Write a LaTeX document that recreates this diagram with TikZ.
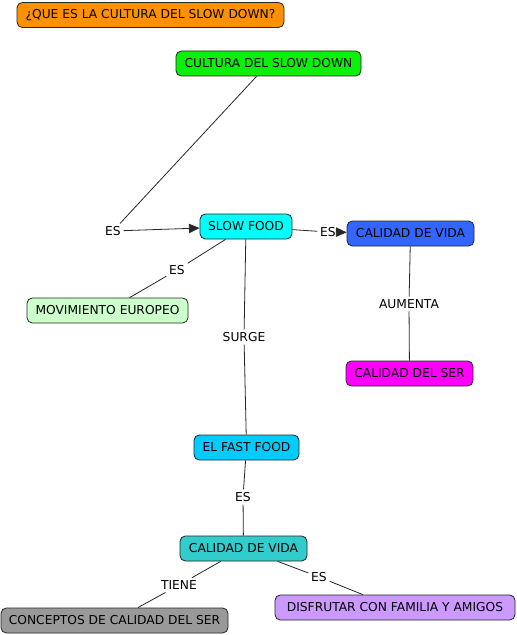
\documentclass[tikz,border=0pt]{standalone}
\usepackage{fontspec}
\setmainfont{DejaVu Sans}
\usetikzlibrary{arrows.meta}
\definecolor{cOrange}{RGB}{255,145,0}
\definecolor{cGreen}{RGB}{10,240,10}
\definecolor{cCyan}{RGB}{0,255,255}
\definecolor{cBlue}{RGB}{51,102,255}
\definecolor{cLight}{RGB}{204,255,204}
\definecolor{cMag}{RGB}{255,0,255}
\definecolor{cSky}{RGB}{0,204,255}
\definecolor{cTeal}{RGB}{51,204,204}
\definecolor{cGrey}{RGB}{153,153,153}
\definecolor{cLav}{RGB}{204,153,255}
\begin{document}
\begin{tikzpicture}[x=0.75pt,y=-0.75pt,
  concept/.style={draw=black!85,line width=0.6pt,rounded corners=4pt,minimum height=18.75pt,inner sep=1pt,font=\fontsize{9.2}{11}\selectfont},
  lbl/.style={inner sep=2pt,font=\fontsize{9.2}{11}\selectfont},
  link/.style={draw=black!85,line width=0.6pt},
  arr/.style={link,-{Triangle[length=8pt,width=7pt]}}]
\useasboundingbox (0,0) rectangle (517,635);
\fill[white] (0,0) rectangle (517,635);
\node[concept,fill=cOrange,minimum width=200.25pt] (title) at (150.5,15) {¿QUE ES LA CULTURA DEL SLOW DOWN?};
\node[concept,fill=cGreen,minimum width=138.75pt] (cult) at (268.5,63.5) {CULTURA DEL SLOW DOWN};
\node[concept,fill=cCyan,minimum width=69pt] (slow) at (246,226.5) {SLOW FOOD};
\node[concept,fill=cBlue,minimum width=95.25pt] (cvida) at (410.5,233.5) {CALIDAD DE VIDA};
\node[concept,fill=cLight,minimum width=120.75pt] (mov) at (107.5,310.5) {MOVIMIENTO EUROPEO};
\node[concept,fill=cMag,minimum width=95.25pt] (cser) at (409.5,373.5) {CALIDAD DEL SER};
\node[concept,fill=cSky,minimum width=78.75pt] (fast) at (246.5,447.5) {EL FAST FOOD};
\node[concept,fill=cTeal,minimum width=95.25pt] (cvida2) at (243.5,548.5) {CALIDAD DE VIDA};
\node[concept,fill=cGrey,minimum width=170.25pt] (conc) at (114.5,620.5) {CONCEPTOS DE CALIDAD DEL SER};
\node[concept,fill=cLav,minimum width=180pt] (disf) at (395,607.5) {DISFRUTAR CON FAMILIA Y AMIGOS};

\node[lbl] (l1) at (113,231) {ES};
\node[lbl] (l2) at (328,232) {ES};
\node[lbl] (l3) at (177,270) {ES};
\node[lbl] (l4) at (244,337) {SURGE};
\node[lbl] (l5) at (409,304) {AUMENTA};
\node[lbl] (l6) at (243,497) {ES};
\node[lbl] (l7) at (179,585) {TIENE};
\node[lbl] (l8) at (319,577) {ES};

\draw[link] (cult) -- (l1);
\draw[arr] (l1) -- (slow);
\draw[link] (slow) -- (l2);
\draw[arr] (l2) -- (cvida);
\draw[link] (slow) -- (l3);
\draw[link] (l3) -- (mov);
\draw[link] (slow) -- (l4);
\draw[link] (l4) -- (fast);
\draw[link] (cvida) -- (l5);
\draw[link] (l5) -- (cser);
\draw[link] (fast) -- (l6);
\draw[link] (l6) -- (cvida2);
\draw[link] (cvida2) -- (l7);
\draw[link] (l7) -- (conc);
\draw[link] (cvida2) -- (l8);
\draw[link] (l8) -- (disf);
\end{tikzpicture}
\end{document}
